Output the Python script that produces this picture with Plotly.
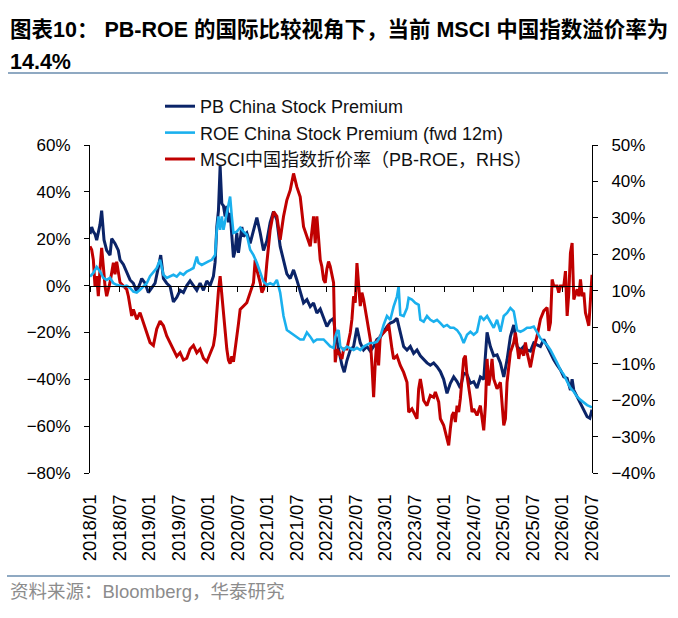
import plotly.graph_objects as go

# ---------------- data (months since 2018/01, value in %) ----------------
pb_months = [0, 0.34, 0.68, 1.02, 1.36, 2.03, 2.37, 2.85, 3.39, 4.07, 4.41, 5.08, 5.76, 6.10, 6.78, 7.46,
             8.14, 8.81, 9.49, 10.17, 10.51, 11.19, 11.86, 12.54, 13.22, 13.90, 14.37, 14.92, 15.59, 16.27,
             16.95, 17.63, 18.31, 18.98, 19.66, 20.34, 21.02, 21.70, 22.37, 23.05, 23.73, 24.41, 25.08, 25.42,
             25.76, 26.10, 26.44, 26.78, 27.12, 27.46, 27.80, 28.13, 28.47, 28.81, 29.15, 29.49, 29.83, 30.17,
             30.85, 31.19, 31.86, 32.54, 33.22, 33.90, 34.58, 35.25, 35.93, 36.61, 37.29, 37.97, 38.64, 39.32,
             40.00, 40.68, 41.36, 42.03, 42.71, 43.39, 44.07, 44.75, 45.42, 46.10, 46.78, 47.46, 48.13, 48.81,
             49.49, 49.83, 50.51, 51.19, 51.66, 52.20, 52.88, 53.56, 54.24, 54.92, 55.59, 56.27, 56.95, 57.63,
             58.30, 58.98, 59.66, 60.34, 61.02, 61.69, 62.37, 63.05, 63.73, 64.41, 65.08, 65.76, 66.44, 67.12,
             67.80, 68.47, 69.15, 69.83, 70.51, 71.19, 71.86, 72.54, 73.22, 73.90, 74.58, 75.25, 75.93, 76.61,
             77.29, 77.96, 78.64, 79.32, 80.00, 80.68, 81.35, 82.03, 82.71, 83.39, 84.07, 84.74, 85.42, 86.10,
             86.78, 87.46, 88.13, 88.81, 89.49, 90.17, 90.85, 91.52, 92.20, 92.88, 93.56, 94.23, 94.91, 95.59,
             96.27, 96.95, 97.62, 97.96, 98.30, 98.98, 99.66, 100.34, 101.01, 101.56, 102.0]
pb_values = [22, 25, 23, 22, 19.4, 26, 32, 19.5, 15, 13, 20, 18, 15, 11, 9, 5.4,
             2.4, 1, -2.6, 1, 3, 1, -3, -1, 1, 8, 13, 3, 1, -0.4,
             -7, -5, -2, -3, 0, 2, 0, -2, 1, -2, 2, 0, 4, 10,
             25, 32, 51, 35, 34, 29.5, 34, 27, 31, 19.5, 12, 15, 22.5, 14,
             25, 21, 22.5, 18, 24, 29, 22.5, 15, 19, 27, 31.6, 28, 16.7, 11,
             5, 3, 6.7, 2.4, -3, -7.4, -6, -9, -7.4, -11.7, -10, -14, -17.5, -15,
             -14, -20, -27.5, -34, -37, -32, -27.5, -26, -18, -24.5, -27.5, -26, -28, -26,
             -23, -22, -19.7, -17.5, -16, -15.4, -14, -20, -26, -27.5, -26, -29, -27.5, -30,
             -31.7, -33, -34, -33, -34.6, -36.7, -40, -46, -41.7, -39, -41, -43.7, -37.4, -38,
             -41.7, -41, -43.7, -39, -40, -20, -26, -30, -29.6, -33, -39, -31.7, -21.8, -16.8,
             -26, -27.5, -26, -27.5, -28, -24.5, -25.3, -26, -23, -26, -29, -31.7, -34, -36,
             -39, -39.6, -44.6, -40, -44.6, -47.4, -50, -53, -56, -56.6, -53]

roe_months = [0, 0.68, 1.36, 2.03, 2.71, 3.39, 4.07, 4.75, 5.42, 6.10, 6.78, 7.46, 8.14, 8.81, 9.49, 10.17,
              10.85, 11.53, 12.20, 12.88, 13.56, 14.24, 14.58, 14.92, 15.59, 16.27, 16.95, 17.63, 18.31, 18.98,
              19.66, 20.34, 21.02, 21.70, 22.04, 22.71, 23.39, 24.07, 24.75, 25.42, 25.76, 26.10, 26.44, 26.78,
              27.12, 27.80, 28.47, 28.81, 29.15, 29.83, 30.51, 31.19, 31.86, 32.54, 33.22, 33.90, 34.58, 35.25,
              35.93, 36.61, 37.29, 37.97, 38.64, 39.32, 40.00, 40.68, 41.36, 42.03, 42.71, 43.39, 44.07, 44.75,
              45.42, 46.10, 46.78, 47.46, 48.13, 48.81, 49.49, 49.83, 50.17, 50.51, 50.85, 51.53, 52.20, 52.88,
              53.56, 54.24, 54.92, 55.59, 56.27, 56.95, 57.63, 58.30, 58.98, 59.66, 60.34, 61.02, 61.69, 62.37,
              62.71, 63.05, 63.73, 64.41, 64.75, 65.42, 66.10, 66.78, 67.12, 67.80, 68.47, 69.15, 69.83, 70.51,
              71.19, 71.86, 72.54, 73.22, 73.90, 74.58, 75.25, 75.93, 76.61, 77.29, 77.96, 78.64, 79.32, 80.00,
              80.68, 81.35, 82.03, 82.71, 83.39, 84.07, 84.74, 85.42, 86.10, 86.78, 87.46, 88.13, 88.81, 89.49,
              90.17, 90.85, 91.52, 92.20, 92.88, 93.56, 94.23, 94.91, 95.59, 96.27, 96.95, 97.62, 98.30, 98.98,
              99.66, 100.34, 101.01, 102.0]
roe_values = [3.8, 5.4, 8, 6, 3.3, 2.4, 3.3, 1, 0.3, 0, -0.4, 0, -1, -2.6, -3, -1.8,
              -0.4, 1, 4, 6, 7.5, 11, 8, 4.6, 3.3, 3.8, 4.6, 3.8, 5.4, 4.6,
              6, 6.7, 7.5, 12.4, 9.7, 8.8, 9.7, 10.3, 11, 13, 23.8, 29.5, 23.8, 29.5,
              23.8, 31.6, 38, 29.5, 22.5, 23, 24.7, 23, 21.7, 15.3, 13, 9.7, 5.4, 1.7,
              0.3, 1, 0.3, 2.4, -3, -13, -19, -20, -21, -21.8, -23, -23, -20, -21.8,
              -24, -23, -23, -23, -24.5, -26, -26.6, -22, -19.7, -19, -26, -27.5, -26, -26.6,
              -27.5, -26.6, -27.5, -26, -25.4, -24.5, -24.5, -24, -21.8, -16.8, -13, -14.6, -9, -4.7,
              -0.4, -12.5, -13, -9.6, -5.3, -6, -7.4, -8.2, -14.6, -15.4, -13, -14.6, -15.4, -14.6,
              -16, -17.5, -16.8, -18, -18, -19, -21, -24.5, -21, -19.7, -21, -19.7, -13, -14.6,
              -13, -15.4, -18, -14.6, -19.7, -13, -11.7, -9.6, -11, -19, -19.7, -19, -18, -18,
              -17.5, -20, -22.5, -24, -25.4, -27.5, -30, -33, -36, -38, -41, -43.7, -45.3, -47.4,
              -48.8, -50, -51, -52]

msci_months = [0, 0.34, 0.68, 1.02, 1.36, 1.69, 2.03, 2.37, 2.71, 3.05, 3.39, 4.07, 4.75, 5.08, 5.42, 6.10,
               6.78, 7.46, 7.80, 8.14, 8.47, 8.81, 9.49, 10.17, 10.85, 11.53, 12.20, 12.88, 13.56, 14.24,
               14.92, 15.59, 16.27, 16.95, 17.63, 18.31, 18.98, 19.66, 20.34, 21.02, 21.70, 22.37, 23.05, 23.73,
               24.41, 25.08, 25.42, 25.76, 26.10, 26.44, 26.78, 27.12, 27.46, 27.80, 28.13, 28.47, 28.81, 29.15,
               29.49, 29.83, 30.17, 30.51, 31.19, 31.86, 32.54, 33.22, 33.56, 33.90, 34.58, 34.92, 35.25, 35.59,
               35.93, 36.61, 37.29, 37.97, 38.64, 39.32, 40.00, 40.68, 41.36, 42.03, 42.71, 43.39, 44.07, 44.75,
               45.42, 45.76, 46.10, 46.78, 47.10, 47.46, 47.80, 48.13, 48.47, 48.81, 49.49, 49.83, 50.17, 50.51,
               50.85, 51.19, 51.53, 52.20, 52.88, 53.22, 53.56, 53.90, 54.24, 54.58, 54.92, 55.25, 55.59, 56.27,
               56.95, 57.29, 57.63, 57.97, 58.30, 58.64, 58.98, 59.66, 60.34, 60.68, 61.02, 61.36, 61.69, 62.37,
               63.05, 63.73, 64.41, 64.75, 65.42, 66.10, 66.44, 66.78, 67.12, 67.46, 67.80, 68.47, 69.15, 69.83,
               70.17, 70.85, 71.19, 71.86, 72.54, 72.88, 73.22, 73.56, 73.90, 74.24, 74.58, 74.91, 75.25, 75.59,
               75.93, 76.27, 76.61, 77.29, 77.63, 77.96, 78.64, 79.32, 80.00, 80.34, 80.68, 81.02, 81.35, 81.69,
               82.03, 82.71, 83.39, 84.07, 84.41, 84.74, 85.42, 86.10, 86.44, 86.78, 87.12, 87.46, 88.13, 88.47,
               88.81, 89.49, 90.17, 90.85, 91.52, 92.20, 92.88, 93.22, 93.56, 93.90, 94.23, 94.91, 95.25, 95.59,
               96.27, 96.61, 96.95, 97.29, 97.62, 97.96, 98.30, 98.98, 99.32, 99.66, 100.0, 100.34, 100.67, 101.01,
               101.35, 101.69, 102.0]
msci_values = [22.2, 21.3, 18.5, 11.3, 14, 8.5, 15.8, 21.8, 16.7, 11.3, 8.5, 12.3, 17.7, 14.5, 18, 12.3,
               11.3, 10.4, 8.5, 5.8, 3.1, 4.9, 2.2, 4, 1.3, -1.5, -4.2, -5, -0.5, 1.7,
               0.4, -2.4, -4.2, -6, -8, -7, -9, -8.5, -6, -5, -7, -6, -8.5, -9.5,
               -7, -5, -2, 5, 10, 14, 9, 4.9, -2, -6, -9, -10, -8, -9.5,
               -6, -3, 1, 4.9, 5.8, 6.7, 9.5, 12.2, 18.5, 15.8, 12.2, 9.5, 10.4, 12.2,
               17.6, 26.7, 31.7, 30.4, 24, 30.4, 34.9, 37.6, 42.2, 38.5, 35.8, 27.6, 24.9, 22.2,
               30.4, 23.1, 30.4, 18.5, 16.7, 13.1, 12.2, 16, 18, 16.7, 12.2, -9.6, -6, -6.9,
               -7.8, -8.7, -6, -6, -1.5, 2.2, 8.5, 6.7, 17.6, 10.4, 5.8, 9.5, 7.6, 2.2,
               -3.3, -10.5, -19.2, -9.6, -3.3, -10.5, -2.4, -1.5, -0.5, 0.8, -3.3, -6, -8.7, -7.8,
               -10.5, -12.4, -15.1, -23.3, -22.4, -24.2, -25.1, -16.9, -14.2, -16.9, -20.1, -21.5, -18.7, -19.2,
               -17.8, -20.5, -25.1, -26.9, -30.5, -32.4, -27.8, -24.2, -23.3, -26, -21.5, -23.3, -19.6, -15.1,
               -8.7, -7.8, -13.3, -19.6, -23.3, -22.4, -24.2, -21.5, -28.3, -21.5, -8.7, -16, -13.3, -8.7,
               -14.2, -16.9, -15.1, -26.9, -25.1, -15.1, -6.9, -4.2, -1.5, -5.1, -8.7, -6, -7.8, -4.2,
               -6.9, -11, -6, -2.4, 2.2, 4.5, 5.4, -1, 1.3, 13.1, 11.3, 11.3, 9.5, 11.3,
               11.3, 15.4, 3.1, 9.5, 20.4, 23.1, 7.6, 10.4, 8.5, 13.1, 8.5, 9.5, 4, 2.2,
               0.4, 7.6, 14.4]

x_tick_labels = ["2018/01", "2018/07", "2019/01", "2019/07", "2020/01", "2020/07", "2021/01", "2021/07",
                 "2022/01", "2022/07", "2023/01", "2023/07", "2024/01", "2024/07", "2025/01", "2025/07",
                 "2026/01", "2026/07"]
x_tick_months = [6 * i for i in range(len(x_tick_labels))]

series_names = ["PB China Stock Premium", "ROE China Stock Premium (fwd 12m)",
                "MSCI中国指数折价率（PB-ROE，RHS）"]
title_line1 = "图表10： PB-ROE 的国际比较视角下，当前 MSCI 中国指数溢价率为"
title_line2 = "14.4%"
source_text = "资料来源：Bloomberg，华泰研究"

# ---------------- layout geometry ----------------
W, H = 678, 618
ML, MR, MT, MB = 90, 86, 145, 145
PW, PH = W - ML - MR, H - MT - MB


def px_x(p):
    return (p - ML) / PW


def px_y(p):
    return (H - MB - p) / PH


FONT = "Arial, 'Liberation Sans', 'Noto Sans CJK SC', sans-serif"

fig = go.Figure()
fig.add_trace(go.Scatter(x=pb_months, y=pb_values, mode="lines", name=series_names[0],
                         line=dict(color="#0B2468", width=3), xaxis="x", yaxis="y"))
fig.add_trace(go.Scatter(x=roe_months, y=roe_values, mode="lines", name=series_names[1],
                         line=dict(color="#1AB0EE", width=2.6), xaxis="x2", yaxis="y"))
fig.add_trace(go.Scatter(x=msci_months, y=msci_values, mode="lines", name=series_names[2],
                         line=dict(color="#C00000", width=3), xaxis="x", yaxis="y2"))

fig.update_layout(
    width=W, height=H,
    margin=dict(l=ML, r=MR, t=MT, b=MB, pad=0),
    plot_bgcolor="white", paper_bgcolor="white",
    font=dict(family=FONT, color="#000000", size=17),
    xaxis=dict(range=[0, 102], tickvals=x_tick_months, ticktext=x_tick_labels,
               tickangle=-90, showline=False, showgrid=False, zeroline=False,
               ticks="outside", ticklen=13, tickcolor="rgba(0,0,0,0)",
               tickfont=dict(size=18.5, family=FONT)),
    xaxis2=dict(range=[0, 102], overlaying="x", anchor="free", position=80 / 140,
                tickvals=x_tick_months, showticklabels=False, showline=True, linecolor="black",
                linewidth=1, ticks="outside", ticklen=5, tickcolor="black", showgrid=False,
                zeroline=False, side="bottom"),
    yaxis=dict(range=[-80, 60], dtick=20, tick0=0, ticksuffix="%", showline=True, linecolor="black",
               linewidth=1, ticks="outside", ticklen=5, tickcolor="black", showgrid=False,
               zeroline=False, ticklabelstandoff=10, tickfont=dict(size=17, family=FONT)),
    yaxis2=dict(range=[-40, 50], dtick=10, tick0=0, ticksuffix="%", overlaying="y", side="right",
                showline=True, linecolor="black", linewidth=1, ticks="outside", ticklen=5,
                tickcolor="black", showgrid=False, zeroline=False, ticklabelstandoff=10,
                tickfont=dict(size=17, family=FONT)),
    legend=dict(x=px_x(160), y=px_y(88), xanchor="left", yanchor="top",
                bgcolor="rgba(0,0,0,0)", font=dict(size=18, family=FONT, color="#111111"),
                tracegroupgap=0),
    showlegend=True,
)

fig.add_annotation(text="<b>" + title_line1 + "</b>", x=px_x(8), y=px_y(30), xref="paper", yref="paper",
                   xanchor="left", yanchor="middle", showarrow=False,
                   font=dict(size=21.5, family=FONT, color="#000000"))
fig.add_annotation(text="<b>" + title_line2 + "</b>", x=px_x(8), y=px_y(62), xref="paper", yref="paper",
                   xanchor="left", yanchor="middle", showarrow=False,
                   font=dict(size=21.5, family=FONT, color="#000000"))
fig.add_annotation(text=source_text, x=px_x(8), y=px_y(591), xref="paper", yref="paper",
                   xanchor="left", yanchor="middle", showarrow=False,
                   font=dict(size=18.5, family=FONT, color="#8C8C8C"))

fig.add_shape(type="line", xref="paper", yref="paper", x0=px_x(8), x1=px_x(668), y0=px_y(73), y1=px_y(73),
              line=dict(color="#8FA9C2", width=2))
fig.add_shape(type="line", xref="paper", yref="paper", x0=px_x(7), x1=px_x(670), y0=px_y(576), y1=px_y(576),
              line=dict(color="#8FA9C2", width=2))

fig.write_html("out.html")
